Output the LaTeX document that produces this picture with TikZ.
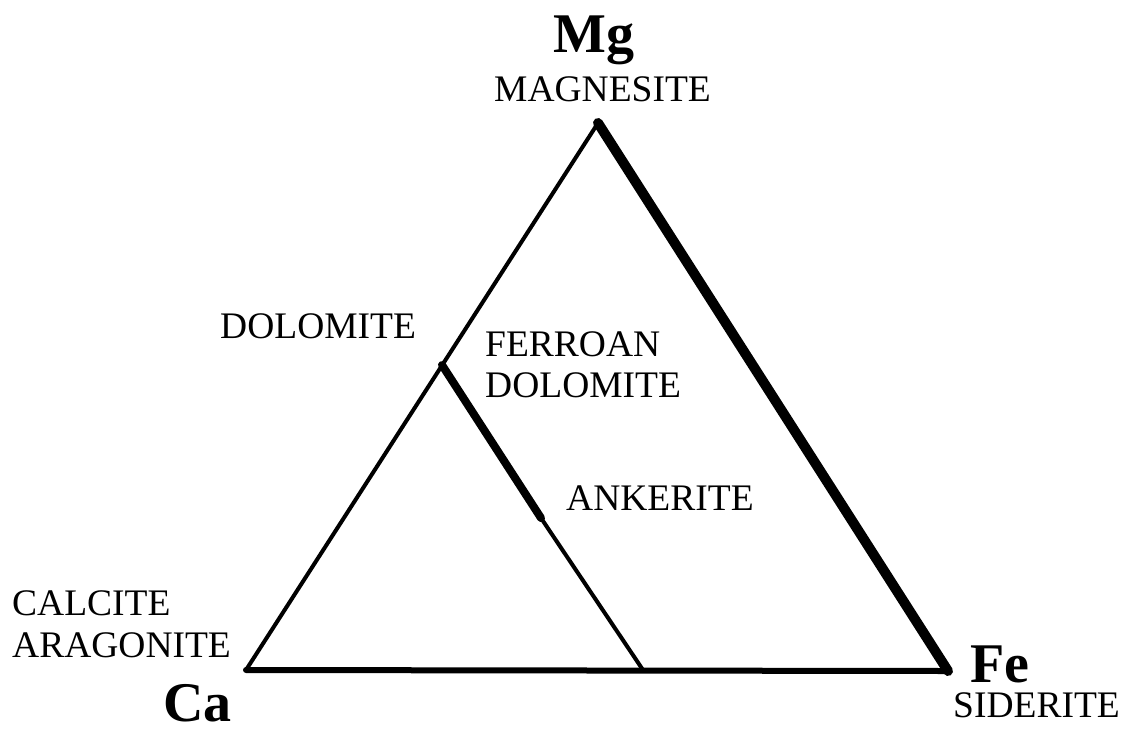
\documentclass[tikz,border=0pt]{standalone}
\usepackage{fontspec}
\setmainfont{Liberation Serif}
\begin{document}
\begin{tikzpicture}[x=1pt,y=-1pt,
  lbl/.style={inner sep=0pt,anchor=base west,font=\fontsize{37.5}{37.5}\selectfont},
  elem/.style={inner sep=0pt,anchor=base west,font=\fontsize{56}{56}\selectfont\bfseries},
  edge/.style={line cap=round,line join=round}]
\useasboundingbox (0,0) rectangle (1126,729);
\coordinate (Ca) at (246,670);
\coordinate (Mg) at (598,123);
\coordinate (Fe) at (948,671);
\coordinate (D) at (442,365);
\coordinate (K) at (541,518);
\coordinate (B) at (643,670);
% edges
\draw[edge,line width=4pt] (Ca) -- (Mg);
\draw[edge,line width=6pt] (Ca) -- (Fe);
\draw[edge,line width=10pt] (Mg) -- (Fe);
\draw[line width=4pt] (K) -- (B);
\draw[edge,line width=8pt] (D) -- (K);
% labels
\node[elem] (mgl) at (553,52) {Mg};
\node[lbl] (magn) at (494,101) {MAGNESITE};
\node[lbl] (dol) at (220,338) {DOLOMITE};
\node[lbl] (ferr) at (485,356) {FERROAN};
\node[lbl] (fdol) at (485,397) {DOLOMITE};
\node[lbl] (ank) at (566,510) {ANKERITE};
\node[lbl] (calc) at (12,615) {CALCITE};
\node[lbl] (arag) at (12,657) {ARAGONITE};
\node[elem] (cal) at (163,721) {Ca};
\node[elem] (fel) at (970,682) {Fe};
\node[lbl] (sid) at (953,717) {SIDERITE};
\end{tikzpicture}
\end{document}
